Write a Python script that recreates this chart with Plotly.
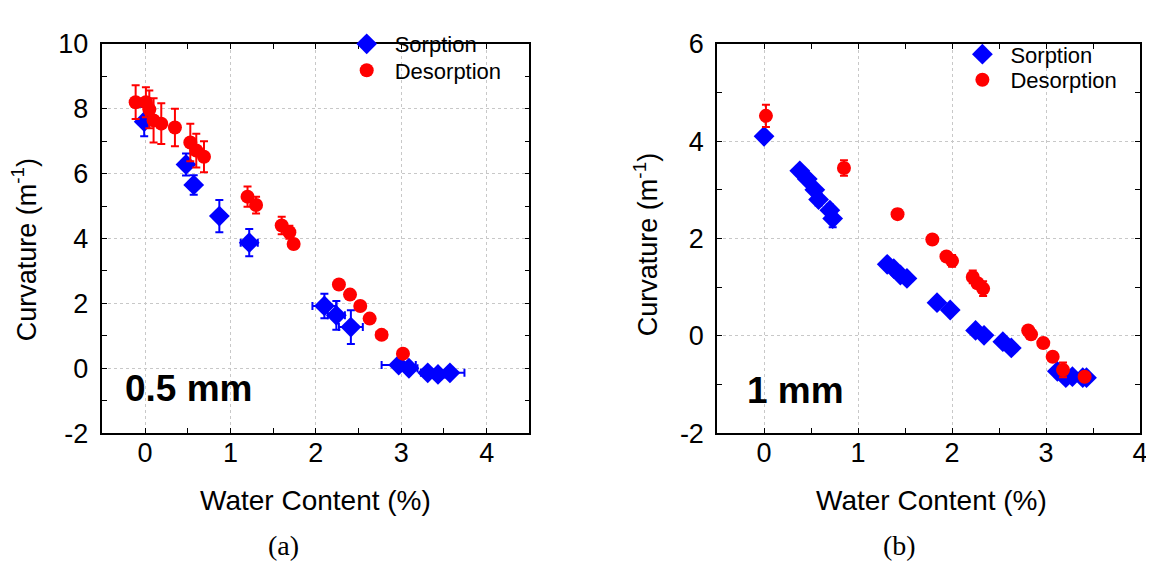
import plotly.graph_objects as go

# ---------------- Panel (a): 0.5 mm ----------------
a_sorp_x = [-0.01, 0.48, 0.57, 0.87, 1.22, 2.10, 2.24, 2.41, 2.97, 3.09, 3.31, 3.43, 3.57]
a_sorp_y = [7.60, 6.28, 5.65, 4.69, 3.87, 1.92, 1.63, 1.27, 0.10, 0.00, -0.14, -0.19, -0.14]
a_sorp_ey = [0.45, 0.34, 0.30, 0.50, 0.42, 0.38, 0.44, 0.52, 0.08, 0.08, 0.08, 0.10, 0.08]
a_sorp_ex = [0.0, 0.04, 0.0, 0.0, 0.10, 0.14, 0.10, 0.14, 0.20, 0.10, 0.08, 0.08, 0.17]

a_des_x = [-0.11, 0.01, 0.05, 0.10, 0.19, 0.35, 0.53, 0.60, 0.69, 1.20, 1.30, 1.60, 1.69, 1.74,
           2.27, 2.40, 2.52, 2.63, 2.77, 3.02]
a_des_y = [8.20, 8.20, 7.98, 7.64, 7.54, 7.42, 6.96, 6.71, 6.52, 5.29, 5.03, 4.40, 4.19, 3.83,
           2.58, 2.27, 1.92, 1.53, 1.03, 0.45]
a_des_ey = [0.52, 0.46, 0.58, 0.68, 0.63, 0.58, 0.58, 0.52, 0.48, 0.31, 0.26, 0.27, 0.20, 0.15,
            0.05, 0.05, 0.05, 0.05, 0.05, 0.05]
a_des_ex = [0, 0, 0, 0, 0, 0, 0, 0, 0, 0, 0, 0, 0, 0, 0, 0, 0, 0, 0.06, 0]

# ---------------- Panel (b): 1 mm ----------------
b_sorp_x = [0.00, 0.38, 0.46, 0.54, 0.58, 0.70, 0.73, 1.31, 1.38, 1.45, 1.52, 1.84, 1.98,
            2.25, 2.34, 2.54, 2.63, 3.12, 3.21, 3.28, 3.39, 3.43]
b_sorp_y = [4.10, 3.39, 3.22, 3.00, 2.80, 2.58, 2.41, 1.47, 1.38, 1.25, 1.18, 0.68, 0.53,
            0.11, 0.01, -0.12, -0.25, -0.73, -0.86, -0.84, -0.86, -0.86]
b_sorp_ey = [0.08, 0.10, 0.10, 0.10, 0.12, 0.12, 0.18, 0.10, 0.08, 0.08, 0.06, 0.05, 0.05,
             0.06, 0.05, 0.06, 0.05, 0.06, 0.06, 0.05, 0.06, 0.05]

b_des_x = [0.02, 0.85, 1.42, 1.79, 1.94, 2.00, 2.22, 2.27, 2.33, 2.81, 2.84, 2.97, 3.07, 3.18, 3.41]
b_des_y = [4.52, 3.45, 2.50, 1.98, 1.63, 1.54, 1.21, 1.08, 0.97, 0.11, 0.03, -0.15, -0.43, -0.70, -0.84]
b_des_ey = [0.23, 0.16, 0.10, 0.05, 0.08, 0.12, 0.13, 0.10, 0.15, 0.05, 0.06, 0.10, 0.05, 0.15, 0.06]

# ---------------- Tick labels ----------------
a_yticks = [-2, 0, 2, 4, 6, 8, 10]
a_yticklabels = ["-2", "0", "2", "4", "6", "8", "10"]
b_yticks = [-2, 0, 2, 4, 6]
b_yticklabels = ["-2", "0", "2", "4", "6"]
a_xticks = [0, 1, 2, 3, 4]
b_xticks = [0, 1, 2, 3, 4]

labels = ["Sorption", "Desorption"]
x_title = "Water Content (%)"
y_title = "Curvature (m<sup>-1</sup>)"
panel_labels = ["(a)", "(b)"]
thickness_labels = ["0.5 mm", "1 mm"]

BLUE = "#0000ff"
RED = "#ff0000"
FONT = "Liberation Sans, Arial, sans-serif"
SERIF = "Liberation Serif, Times New Roman, serif"

fig = go.Figure()


def err(arr, color):
    return dict(type="data", array=arr, visible=True, color=color, thickness=2, width=4)


fig.add_trace(go.Scatter(x=a_sorp_x, y=a_sorp_y, mode="markers", name=labels[0],
                         marker=dict(symbol="diamond", size=16, color=BLUE),
                         error_y=err(a_sorp_ey, BLUE), error_x=err(a_sorp_ex, BLUE),
                         xaxis="x", yaxis="y", legend="legend"))
fig.add_trace(go.Scatter(x=a_des_x, y=a_des_y, mode="markers", name=labels[1],
                         marker=dict(symbol="circle", size=14, color=RED),
                         error_y=err(a_des_ey, RED), error_x=err(a_des_ex, RED),
                         xaxis="x", yaxis="y", legend="legend3"))
fig.add_trace(go.Scatter(x=b_sorp_x, y=b_sorp_y, mode="markers", name=labels[0],
                         marker=dict(symbol="diamond", size=16, color=BLUE),
                         error_y=err(b_sorp_ey, BLUE),
                         xaxis="x2", yaxis="y2", legend="legend2"))
fig.add_trace(go.Scatter(x=b_des_x, y=b_des_y, mode="markers", name=labels[1],
                         marker=dict(symbol="circle", size=14, color=RED),
                         error_y=err(b_des_ey, RED),
                         xaxis="x2", yaxis="y2", legend="legend4"))

W, H = 1154, 568


def px(x):
    return x / W


def py(y):
    return 1 - y / H


axis_common = dict(
    showline=True, linecolor="black", linewidth=1.5, mirror="ticks",
    ticks="inside", ticklen=5, tickwidth=1.2, tickcolor="black",
    showgrid=True, gridcolor="#c8c8c8", gridwidth=1, griddash="dot",
    zeroline=False, tickfont=dict(family=FONT, size=27, color="black"),
)
minor_x = dict(dtick=0.5, ticks="inside", ticklen=5, tickcolor="black", showgrid=False)
minor_y = dict(dtick=1, ticks="inside", ticklen=5, tickcolor="black", showgrid=False)


def leg(x, top):
    return dict(x=px(x), y=py(top), xanchor="left", yanchor="top",
                font=dict(family=FONT, size=22), bgcolor="rgba(0,0,0,0)",
                tracegroupgap=0, itemwidth=46)


ya = [py(433), py(22)]
fig.update_layout(
    width=W, height=H,
    margin=dict(l=0, r=0, t=0, b=0),
    paper_bgcolor="white", plot_bgcolor="white",
    font=dict(family=FONT, color="black"),
    xaxis=dict(domain=[px(95), px(525)], range=[-0.5, 4.5], tickvals=a_xticks, anchor="y",
               minor=minor_x, ticklabelstandoff=-5, **axis_common),
    yaxis=dict(domain=ya, range=[-2, 10], tickvals=a_yticks, ticktext=a_yticklabels, anchor="x",
               minor=minor_y, ticklabelstandoff=7, **axis_common),
    xaxis2=dict(domain=[px(714), px(1140)], range=[-0.5, 4], tickvals=b_xticks, anchor="y2",
                minor=minor_x, ticklabelstandoff=-5, **axis_common),
    yaxis2=dict(domain=ya, range=[-2, 6], tickvals=b_yticks, ticktext=b_yticklabels, anchor="x2",
                minor=minor_y, ticklabelstandoff=6, **axis_common),
    legend=leg(333, 0),
    legend3=leg(333, 28),
    legend2=leg(953, 11),
    legend4=leg(953, 38),
    showlegend=True,
)

annotations = [
    dict(x=px(310), y=py(504), text=x_title, font=dict(family=FONT, size=28)),
    dict(x=px(930), y=py(504), text=x_title, font=dict(family=FONT, size=28)),
    dict(x=px(17), y=py(239), text=y_title, textangle=-90, font=dict(family=FONT, size=27)),
    dict(x=px(642), y=py(234), text=y_title, textangle=-90, font=dict(family=FONT, size=27)),
    dict(x=px(277), y=py(552), text=panel_labels[0], font=dict(family=SERIF, size=28)),
    dict(x=px(898), y=py(552), text=panel_labels[1], font=dict(family=SERIF, size=28)),
    dict(x=px(182), y=py(386), text="<b>%s</b>" % thickness_labels[0],
         font=dict(family=FONT, size=37)),
    dict(x=px(793), y=py(388), text="<b>%s</b>" % thickness_labels[1],
         font=dict(family=FONT, size=37)),
]
for a in annotations:
    a.update(xref="paper", yref="paper", showarrow=False, xanchor="center", yanchor="middle")
fig.update_layout(annotations=annotations)

fig.write_html("out.html")
